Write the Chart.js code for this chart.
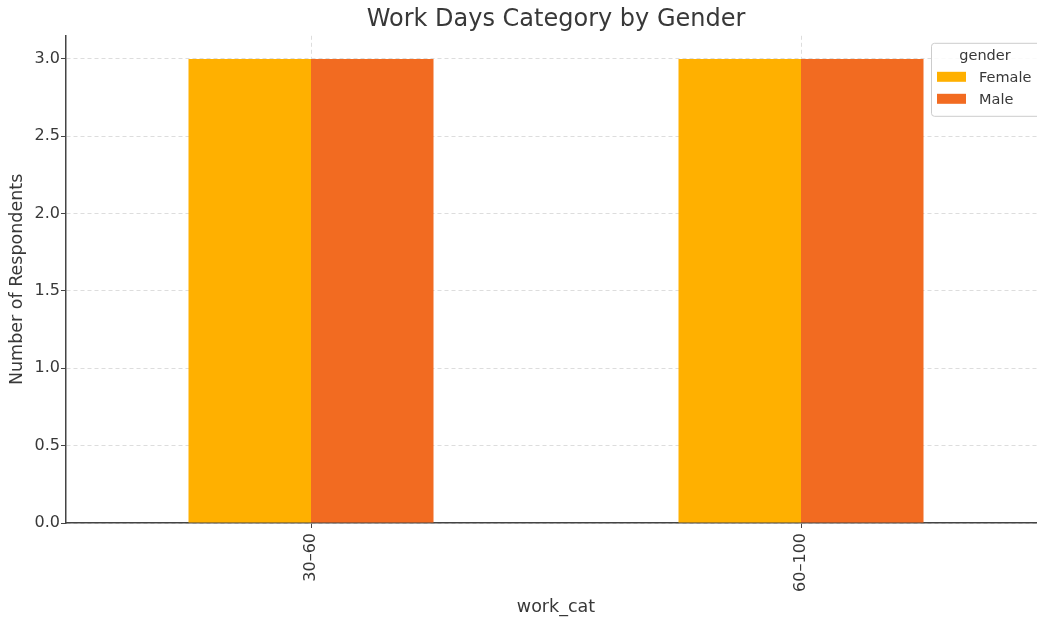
<!DOCTYPE html>
<html>
<head>
<meta charset="utf-8">
<script src="https://cdn.jsdelivr.net/npm/chart.js@4"></script>
<style>
  html, body { margin: 0; padding: 0; background: #fff; overflow: hidden; }
  #wrap { width: 1037px; height: 620px; overflow: hidden; }
</style>
</head>
<body>
<div id="wrap"><canvas id="chart" width="1046" height="620"></canvas></div>
<script>
// --- data ---
const categories = ['30–60', '60–100'];
const seriesNames = ['Female', 'Male'];
const femaleCounts = [3, 3];
const maleCounts = [3, 3];
const seriesColors = ['#FFB000', '#F26B21'];

const FONT = "'DejaVu Sans', sans-serif";
const TEXT = '#383838';

// legend box in the upper right, matplotlib style
const boxLegend = {
    id: 'boxLegend',
    afterDraw(chart) {
        const ctx = chart.ctx;
        const area = chart.chartArea;
        const x = area.right - 115, y = area.top + 7;
        const w = 112, h = 73;
        ctx.save();
        ctx.fillStyle = 'rgba(255,255,255,0.85)';
        ctx.strokeStyle = '#cccccc';
        ctx.lineWidth = 1;
        ctx.beginPath();
        ctx.roundRect(x + 0.5, y + 0.5, w, h, 3);
        ctx.fill();
        ctx.stroke();

        ctx.fillStyle = TEXT;
        ctx.font = '14.5px ' + FONT;
        ctx.textAlign = 'center';
        ctx.textBaseline = 'middle';
        ctx.fillText('gender', x + 54, y + 13);

        ctx.textAlign = 'left';
        chart.data.datasets.forEach((ds, i) => {
            const rowY = y + 34 + i * 22;
            ctx.fillStyle = ds.backgroundColor;
            ctx.fillRect(x + 6, rowY - 5, 29, 10);
            ctx.fillStyle = TEXT;
            ctx.fillText(ds.label, x + 48, rowY + 1);
        });
        ctx.restore();
    }
};

new Chart(document.getElementById('chart'), {
    type: 'bar',
    data: {
        labels: categories,
        datasets: [
            { label: seriesNames[0], data: femaleCounts, backgroundColor: seriesColors[0] },
            { label: seriesNames[1], data: maleCounts, backgroundColor: seriesColors[1] }
        ]
    },
    options: {
        responsive: false,
        animation: false,
        layout: { padding: 0 },
        datasets: {
            bar: { categoryPercentage: 0.5, barPercentage: 1.0, borderWidth: 0 }
        },
        scales: {
            x: {
                offset: true,
                grid: {
                    offset: false,
                    color: '#dddddd',
                    lineWidth: 1,
                    tickLength: 5,
                    tickColor: '#444444'
                },
                border: { color: '#444444', width: 1.5, dash: [4, 3] },
                ticks: {
                    minRotation: 90,
                    maxRotation: 90,
                    padding: 5,
                    color: TEXT,
                    font: { family: FONT, size: 16 }
                },
                title: {
                    display: true,
                    text: 'work_cat',
                    color: TEXT,
                    font: { family: FONT, size: 17.5 },
                    padding: { top: 4, bottom: 2 }
                },
                afterFit(scale) { scale.height = 97; }
            },
            y: {
                min: 0,
                max: 3.15,
                grid: {
                    color: '#dddddd',
                    lineWidth: 1,
                    tickLength: 5,
                    tickColor: '#444444'
                },
                border: { color: '#444444', width: 1.5, dash: [4, 3] },
                ticks: {
                    stepSize: 0.5,
                    padding: 1,
                    color: TEXT,
                    font: { family: FONT, size: 16 },
                    callback: v => v.toFixed(1)
                },
                afterBuildTicks(scale) {
                    scale.ticks = scale.ticks.filter(t => t.value <= 3.0001);
                },
                title: {
                    display: true,
                    text: 'Number of Respondents',
                    color: TEXT,
                    font: { family: FONT, size: 17.5 },
                    padding: { top: 7, bottom: 4 }
                },
                afterFit(scale) { scale.width = 66; }
            }
        },
        plugins: {
            legend: { display: false },
            tooltip: { enabled: false },
            title: {
                display: true,
                fullSize: false,
                text: 'Work Days Category by Gender',
                color: TEXT,
                font: { family: FONT, size: 24, weight: 'normal' },
                padding: { top: 5, bottom: 2 }
            }
        }
    },
    plugins: [boxLegend]
});
</script>
</body>
</html>
